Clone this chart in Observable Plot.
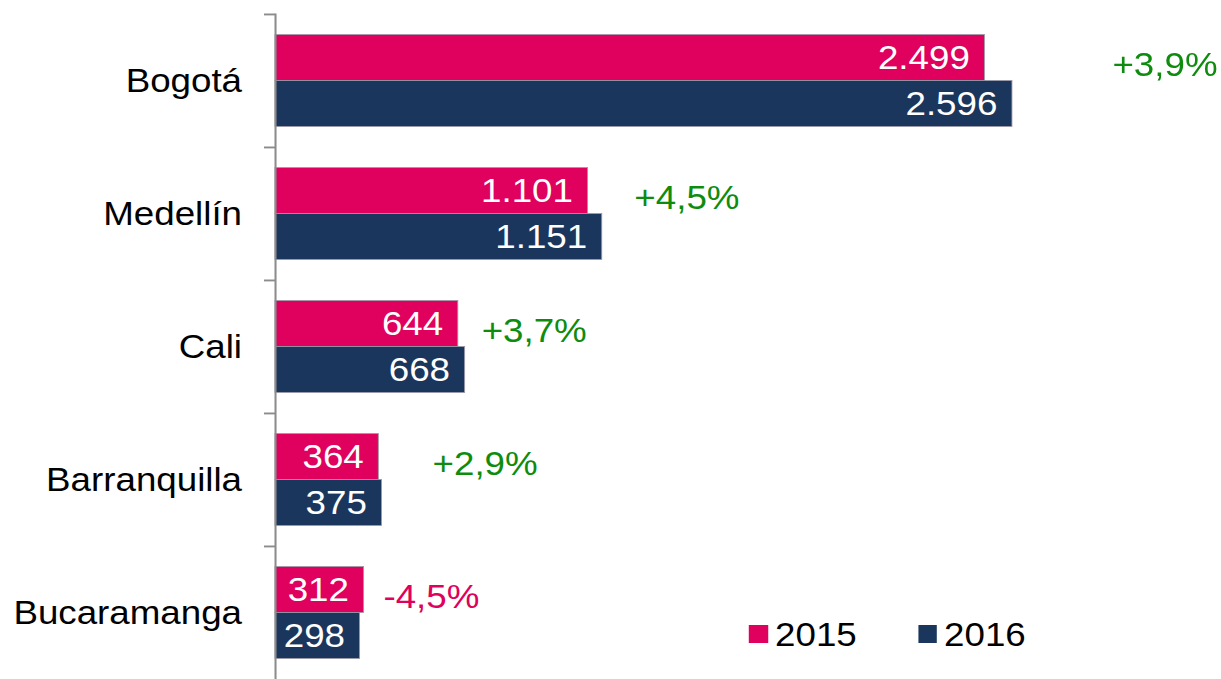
<!DOCTYPE html>
<html>
<head>
<meta charset="utf-8">
<script src="https://cdn.jsdelivr.net/npm/d3@7"></script>
<script src="https://cdn.jsdelivr.net/npm/@observablehq/plot@0.6"></script>
<style>
  html, body { margin: 0; padding: 0; background: #fff; overflow: hidden; }
  #wrap { position: relative; width: 1130px; height: 679px; transform: scaleX(1.0805); transform-origin: 0 0; font-family: "Liberation Sans", Arial, sans-serif; }
  .leg { position: absolute; top: 617px; height: 34px; display: flex; align-items: center; font-size: 34px; line-height: 34px; color: #000; }
  .sw { width: 17.6px; height: 18px; margin-right: 6.5px; }
</style>
</head>
<body>
<div id="wrap"></div>
<script>
const cities = ["Bogotá", "Medellín", "Cali", "Barranquilla", "Bucaramanga"];
const years = ["2015", "2016"];
const values2015 = [2499, 1101, 644, 364, 312];
const values2016 = [2596, 1151, 668, 375, 298];
const changes = [3.9, 4.5, 3.7, 2.9, -4.5];
const changeLabelAt = [2948, 1264, 726, 553, 380];

const colors = {"2015": "#E0005E", "2016": "#1B365D"};
const green = "#0E8C0E";

const rows2015 = cities.map((c, i) => ({city: c, value: values2015[i]}));
const rows2016 = cities.map((c, i) => ({city: c, value: values2016[i]}));
const changeRows = cities.map((c, i) => ({city: c, change: changes[i], at: changeLabelAt[i]}));

const loc = d3.formatLocale({decimal: ",", thousands: ".", grouping: [3], currency: ["", ""]});
const fmt = loc.format(",d");
const pct = v => (v > 0 ? "+" : "") + v.toFixed(1).replace(".", ",") + "%";

const H = 679, mTop = 13.5;
const step = (H - mTop) / cities.length;
const barH = 46;
const pad = (step - 2 * barH) / 2;

const chart = Plot.plot({
  width: 1130,
  height: H,
  marginLeft: 254.5,
  marginRight: 87.3,
  marginTop: mTop,
  marginBottom: 0,
  style: {fontFamily: "'Liberation Sans', Arial, sans-serif", fontSize: "34px", background: "#fff", overflow: "visible"},
  x: {domain: [0, 3000], axis: null},
  y: {domain: cities, padding: 0, label: null},
  marks: [
    Plot.barX(rows2015, {x: "value", y: "city", fill: colors["2015"], stroke: "#9a9aa8", strokeWidth: 0.8, insetTop: pad, insetBottom: step - pad - barH}),
    Plot.barX(rows2016, {x: "value", y: "city", fill: colors["2016"], stroke: "#9a9aa8", strokeWidth: 0.8, insetTop: pad + barH, insetBottom: pad}),
    Plot.text(rows2015, {x: "value", y: "city", text: d => fmt(d.value), textAnchor: "end", dx: -14, dy: -(barH / 2), fill: "white", fontSize: 34}),
    Plot.text(rows2016, {x: "value", y: "city", text: d => fmt(d.value), textAnchor: "end", dx: -14, dy: barH / 2, fill: "white", fontSize: 34}),
    Plot.text(changeRows.filter(d => d.change >= 0), {x: "at", y: "city", text: d => pct(d.change), textAnchor: "start", dy: -16, fill: green, fontSize: 34}),
    Plot.text(changeRows.filter(d => d.change < 0), {x: "at", y: "city", text: d => pct(d.change), textAnchor: "start", dy: -16, fill: colors["2015"], fontSize: 34}),
    Plot.axisY({tickSize: 0, tickPadding: 31, fontSize: 34, fill: "#000", label: null}),
    Plot.axisY({tickSize: 10.2, tickFormat: () => "", dy: -step / 2, stroke: "#8c8c8c", strokeWidth: 1.9, label: null}),
    Plot.ruleX([0], {stroke: "#8c8c8c", strokeWidth: 1.9})
  ]
});

const wrap = document.getElementById("wrap");
wrap.appendChild(chart);

const legendPos = {"2015": 693.2, "2016": 849.6};
years.forEach(y => {
  const item = document.createElement("div");
  item.className = "leg";
  item.style.left = legendPos[y] + "px";
  const sw = document.createElement("div");
  sw.className = "sw";
  sw.style.background = colors[y];
  const t = document.createElement("span");
  t.textContent = y;
  item.appendChild(sw);
  item.appendChild(t);
  wrap.appendChild(item);
});
</script>
</body>
</html>
